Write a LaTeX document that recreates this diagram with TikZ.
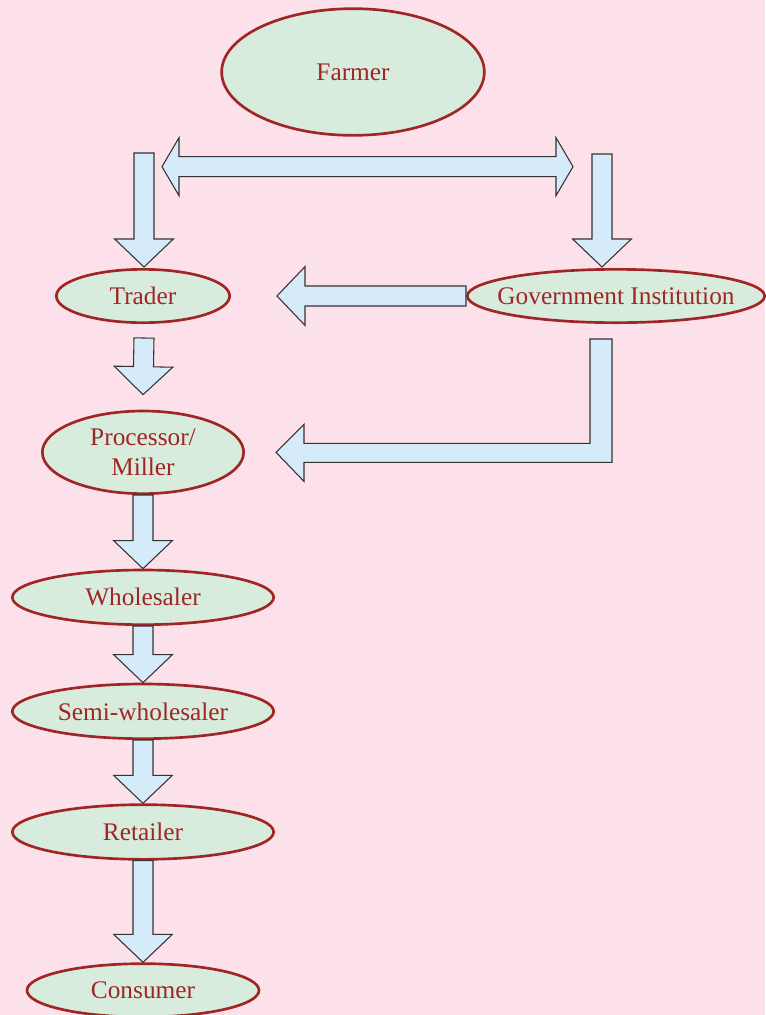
\documentclass[tikz,border=0pt]{standalone}
\usepackage{fontspec}
\setmainfont{Liberation Serif}
\usetikzlibrary{shapes.geometric, positioning, calc}
\definecolor{bgpink}{RGB}{252,224,234}
\definecolor{nodegreen}{RGB}{216,236,222}
\definecolor{rimred}{RGB}{160,38,38}
\definecolor{arrowblue}{RGB}{214,235,249}
\tikzset{%
  actor/.style={ellipse, draw=rimred, line width=2pt, fill=nodegreen,
    text=rimred, inner sep=0pt, align=center,
    font=\fontsize{19}{22}\selectfont}, % the oval boxes
  blockarrow/.style={draw=black!80, fill=arrowblue, line width=0.8pt}
}
% fat arrow from #2 to #3, head length #1
\newcommand{\blockarrow}[3][21pt]{%
  \path ($(#3)!#1!(#2)$) coordinate (hb);
  \draw[blockarrow] ($(#2)!7.5pt!90:(#3)$) -- ($(hb)!7.5pt!90:(#3)$)
    -- ($(hb)!22pt!90:(#3)$) -- (#3) -- ($(hb)!22pt!-90:(#3)$)
    -- ($(hb)!7.5pt!-90:(#3)$) -- ($(#2)!7.5pt!-90:(#3)$) -- cycle;
}
% fat arrow with heads at both ends
\newcommand{\doubleblock}[2]{%
  \path ($(#1)!12.75pt!(#2)$) coordinate (ha) ($(#2)!12.75pt!(#1)$) coordinate (hz);
  \draw[blockarrow] (#1) -- ($(ha)!21.75pt!90:(#2)$) -- ($(ha)!7.5pt!90:(#2)$)
    -- ($(hz)!7.5pt!-90:(#1)$) -- ($(hz)!21.75pt!-90:(#1)$) -- (#2)
    -- ($(hz)!21.75pt!90:(#1)$) -- ($(hz)!7.5pt!90:(#1)$)
    -- ($(ha)!7.5pt!-90:(#2)$) -- ($(ha)!21.75pt!-90:(#2)$) -- cycle;
}

\begin{document}
\begin{tikzpicture}[x=0.75pt, y=0.75pt]

\fill[bgpink] (0,0) rectangle (765,-1015);
\useasboundingbox (0,0) rectangle (765,-1015);

\node[actor, minimum width=197pt, minimum height=95pt] (farmer) at (353,-72) {Farmer};
\node[actor, minimum width=130pt, minimum height=40pt] (trader) at (143,-296) {Trader};
\node[actor, minimum width=223pt, minimum height=40pt] (gov) at (616,-296) {\makebox[0pt]{Government Institution}};
\node[actor, minimum width=151pt, minimum height=62pt, below=64.25pt of trader] (processor) {Processor/\\Miller};
\node[actor, minimum width=196pt, minimum height=41pt, below=55.25pt of processor] (wholesaler) {Wholesaler};
\node[actor, minimum width=196pt, minimum height=41pt, below=42.5pt of wholesaler] (semi) {Semi-wholesaler};
\node[actor, minimum width=196pt, minimum height=41pt, below=47.5pt of semi] (retailer) {Retailer};
\node[actor, minimum width=174pt, minimum height=40pt, below=76.25pt of retailer] (consumer) {Consumer};

% arrows out of the farmer
\coordinate (ft) at ($(trader.north)+(1,115)$);
\coordinate (ttip) at ($(trader.north)+(1,1)$);
\blockarrow{ft}{ttip}
\coordinate (fg) at ($(gov.north)+(-14,114)$);
\coordinate (gtip) at ($(gov.north)+(-14,1)$);
\blockarrow{fg}{gtip}
\coordinate (dl) at ($(farmer.south)+(-191,-30)$);
\coordinate (dr) at ($(farmer.south)+(220,-30)$);
\doubleblock{dl}{dr}

% government institution
\coordinate (gt) at ($(trader.east)+(46,0)$);
\blockarrow{gov.west}{gt}
\coordinate (g-top) at ($(gov.south)+(-15,-15)$);
\coordinate (g-tip) at ($(processor.east)+(31,0)$);
\draw[blockarrow] ($(g-top)+(-11,0)$) -- ($(g-top)+(11,0)$)
  -- ($(g-top |- g-tip)+(11,-10)$) -- ($(g-tip)+(28,-10)$)
  -- ($(g-tip)+(28,-29)$) -- (g-tip) -- ($(g-tip)+(28,28)$)
  -- ($(g-tip)+(28,9)$) -- ($(g-top |- g-tip)+(-11,9)$) -- cycle;

% down the chain
\coordinate (tp) at ($(trader.south)+(1,-14)$);
\coordinate (ptip) at ($(processor.north)+(0,15)$);
\blockarrow{tp}{ptip}
\blockarrow{processor.south}{wholesaler.north}
\blockarrow{wholesaler.south}{semi.north}
\blockarrow{semi.south}{retailer.north}
\blockarrow{retailer.south}{consumer.north}

\end{tikzpicture}
\end{document}
